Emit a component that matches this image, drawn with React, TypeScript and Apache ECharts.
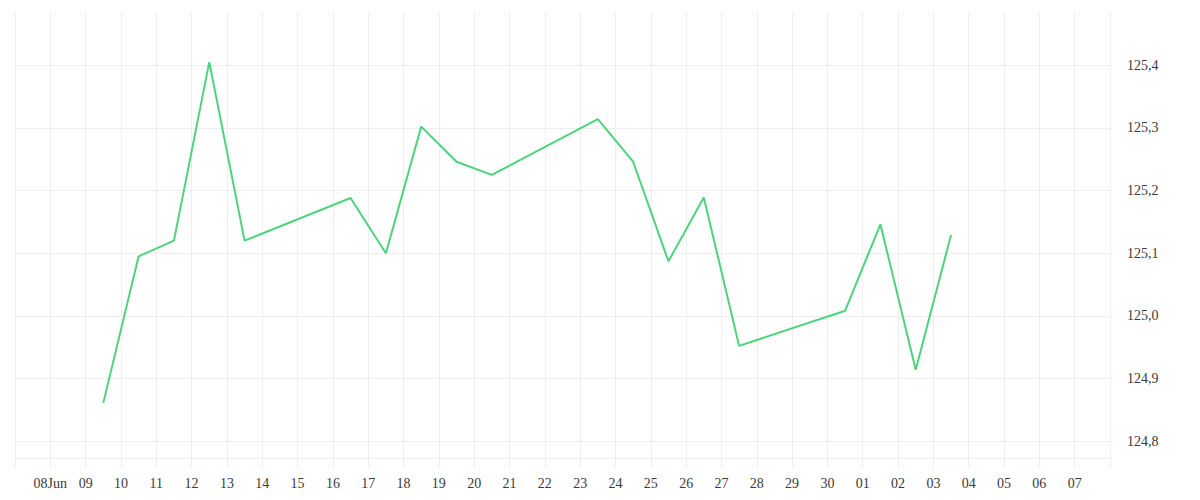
import React, { useEffect, useRef } from "react";
import * as echarts from "echarts";

// Trading dates (month-day) and closing values
const dates = [
  "06-09", "06-10", "06-11", "06-12", "06-13",
  "06-16", "06-17", "06-18", "06-19", "06-20",
  "06-23", "06-24", "06-25", "06-26", "06-27",
  "06-30", "07-01", "07-02", "07-03",
];
const values = [
  124.861, 125.095, 125.12, 125.405, 125.12,
  125.188, 125.1, 125.302, 125.246, 125.225,
  125.314, 125.246, 125.087, 125.189, 124.952,
  125.008, 125.146, 124.914, 125.129,
];
// Day tick labels from 07 Jun (index 0) to 08 Jul (index 31)
const xTickLabels = [
  "", "08Jun", "09", "10", "11", "12", "13", "14", "15", "16", "17", "18",
  "19", "20", "21", "22", "23", "24", "25", "26", "27", "28", "29", "30",
  "01", "02", "03", "04", "05", "06", "07", "",
];
const yMin = 124.773;
const yMax = 125.485;

function dayOffset(md: string): number {
  const [m, d] = md.split("-").map(Number);
  return m === 6 ? d - 7 : d + 23;
}

export default function App() {
  const ref = useRef<HTMLDivElement>(null);
  useEffect(() => {
    document.body.style.margin = "0";
    const chart = echarts.init(ref.current!, null, { renderer: "svg" });
    const grid = "#eeeeee";
    chart.setOption({
      animation: false,
      backgroundColor: "#ffffff",
      grid: { left: 15, right: 90, top: 12, bottom: 42 },
      xAxis: {
        type: "value",
        min: 0,
        max: xTickLabels.length - 1,
        interval: 1,
        axisLine: { show: true, lineStyle: { color: grid, width: 1 } },
        axisTick: { show: true, length: 10, lineStyle: { color: grid } },
        splitLine: { show: true, lineStyle: { color: grid, width: 1 } },
        axisLabel: {
          margin: 18,
          fontFamily: "serif",
          fontSize: 14,
          color: "#3a3a3a",
          formatter: (v: number) => xTickLabels[Math.round(v)] ?? "",
        },
      },
      yAxis: {
        type: "value",
        position: "right",
        min: yMin,
        max: yMax,
        splitNumber: 7,
        axisLine: { show: false },
        axisTick: { show: false },
        splitLine: {
          show: true,
          showMaxLine: false,
          lineStyle: { color: grid, width: 1 },
        },
        axisLabel: {
          margin: 17,
          fontFamily: "serif",
          fontSize: 14,
          color: "#3a3a3a",
          showMinLabel: false,
          showMaxLabel: false,
          formatter: (v: number) => v.toFixed(1).replace(".", ","),
        },
      },
      series: [
        {
          type: "line",
          data: dates.map((d, i) => [dayOffset(d) + 0.5, values[i]]),
          showSymbol: false,
          symbol: "none",
          lineStyle: { color: "#4cd47b", width: 2 },
        },
      ],
    });
    return () => chart.dispose();
  }, []);
  return <div ref={ref} style={{ width: 1200, height: 500 }} />;
}
